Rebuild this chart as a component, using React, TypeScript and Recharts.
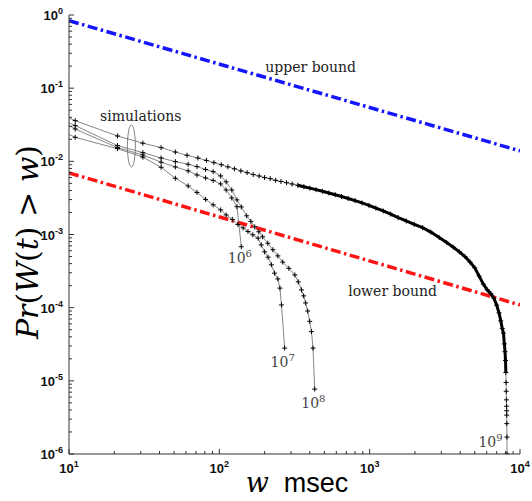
import React from 'react';
import { LineChart, Line, XAxis, YAxis, ReferenceDot } from 'recharts';

// waiting time w (msec) and tail probability
const sim9W = [10, 11, 21, 31, 41, 51, 61, 72, 82, 92, 103, 114, 126, 139, 153, 168, 184, 200, 218, 237, 257, 280, 305, 333, 365, 400, 440, 485, 535, 590, 650, 720, 800, 890, 990, 1100, 1230, 1380, 1550, 1750, 1980, 2250, 2550, 2900, 3250, 3600, 3950, 4300, 4650, 5000, 5350, 5700, 6050, 6400, 6700, 7000, 7250, 7450, 7620, 7760, 7870, 7950, 8010, 8050, 8080, 8100, 8120, 8140, 8150, 8160, 8170, 8190, 8200];
const sim9P = [0.039, 0.036, 0.0222, 0.0177, 0.0154, 0.0134, 0.0121, 0.0111, 0.0103, 0.0096, 0.009, 0.0084, 0.0079, 0.0074, 0.007, 0.0066, 0.0063, 0.006, 0.0058, 0.0055, 0.0053, 0.0051, 0.0049, 0.0047, 0.0045, 0.0043, 0.0041, 0.0039, 0.0037, 0.0035, 0.0033, 0.0031, 0.0029, 0.0027, 0.0025, 0.0023, 0.0021, 0.0019, 0.0017, 0.00153, 0.00138, 0.00124, 0.00108, 0.00091, 0.00078, 0.00067, 0.00058, 0.0005, 0.00042, 0.00035, 0.00027, 0.00021, 0.000175, 0.000155, 0.000135, 0.000108, 0.000085, 0.000066, 0.000052, 0.000045, 0.000032, 0.000025, 0.000019, 0.000013, 0.0000095, 0.0000072, 0.0000055, 0.0000045, 0.0000039, 0.0000034, 0.0000026, 0.0000017, 0.000001];

const sim8W = [10, 11, 21, 31, 41, 51, 62, 71, 81, 91, 102, 111, 121, 131, 140, 152, 162, 172, 183, 194, 210, 227, 245, 264, 290, 318, 335, 352, 364, 375, 387, 399, 410, 420, 431];
const sim8P = [0.0335, 0.0308, 0.0164, 0.01315, 0.0111, 0.0099, 0.00912, 0.00847, 0.00775, 0.00723, 0.00632, 0.00524, 0.00406, 0.00297, 0.00238, 0.0018, 0.00151, 0.00127, 0.00109, 0.00093, 0.00076, 0.00062, 0.00051, 0.00042, 0.000345, 0.00028, 0.000225, 0.000175, 0.000145, 0.000116, 0.00009, 0.000065, 0.000047, 0.000028, 0.0000077];

const sim7W = [10, 11, 21, 31, 41, 51, 62, 71, 81, 91, 102, 111, 122, 133, 144, 155, 167, 181, 190, 200, 211, 222, 233, 245, 253, 259, 272];
const sim7P = [0.0233, 0.0213, 0.0149, 0.0114, 0.0083, 0.00587, 0.00461, 0.00376, 0.00302, 0.00254, 0.00217, 0.00185, 0.00161, 0.00137, 0.00123, 0.0011, 0.00099, 0.00089, 0.00072, 0.00058, 0.00049, 0.000385, 0.000296, 0.000247, 0.000185, 0.000109, 0.000028];

const sim6W = [10, 11, 21, 31, 41, 51, 62, 71, 81, 91, 102, 111, 121, 131, 140];
const sim6P = [0.0309, 0.0277, 0.0154, 0.0122, 0.00973, 0.00838, 0.0074, 0.00652, 0.00593, 0.00548, 0.00491, 0.00406, 0.00316, 0.0024, 0.00068];

const boundW = [10, 10000];
const upperP = [0.836, 0.0139];
const lowerP = [0.00695, 0.000109];

const xTicks = [10, 20, 30, 40, 50, 60, 70, 80, 90, 100, 200, 300, 400, 500, 600, 700, 800, 900, 1000, 2000, 3000, 4000, 5000, 6000, 7000, 8000, 9000, 10000];
const yDecades = [-6, -5, -4, -3, -2, -1];
const minorSteps = [1, 2, 3, 4, 5, 6, 7, 8, 9];
const yTicks = [...yDecades.flatMap((d) => minorSteps.map((m) => m * Math.pow(10, d))), 1];

const notes = [
    { w: 405, p: 0.166, text: 'upper bound', sup: '' },
    { w: 30, p: 0.0356, text: 'simulations', sup: '' },
    { w: 1420, p: 0.000145, text: 'lower bound', sup: '' },
    { w: 137, p: 0.00041, text: '10', sup: '6' },
    { w: 264, p: 0.0000155, text: '10', sup: '7' },
    { w: 422, p: 0.0000043, text: '10', sup: '8' },
    { w: 6370, p: 0.00000125, text: '10', sup: '9' },
];

const toRows = (ws: number[], ps: number[]) => ws.map((w, i) => ({ w, p: ps[i] }));

const sim9 = toRows(sim9W, sim9P);
// where the markers of the 10^9 run merge into a solid band
const sim9Dense = sim9.filter((d) => d.w >= 330 && d.p >= 0.000012);
const sim8 = toRows(sim8W, sim8P);
const sim7 = toRows(sim7W, sim7P);
const sim6 = toRows(sim6W, sim6P);
const upper = toRows(boundW, upperP);
const lower = toRows(boundW, lowerP);

const isDecade = (v: number) => Math.abs(Math.log10(v) - Math.round(Math.log10(v))) < 1e-6;

const XTick = (props: any) => {
    const { x, y, payload } = props;
    const major = isDecade(payload.value);
    const e = Math.round(Math.log10(payload.value));
    return (
        <g>
            <line x1={x} x2={x} y1={y} y2={y - (major ? 5 : 3)} stroke="#333" />
            {major && (
                <text x={x} y={y + 19} textAnchor="middle" fontFamily="Liberation Sans" fontWeight="bold" fontSize={13} fill="#111">
                    10<tspan dy={-6} fontSize={9}>{e}</tspan>
                </text>
            )}
        </g>
    );
};

const YTick = (props: any) => {
    const { x, y, payload } = props;
    const major = isDecade(payload.value);
    const e = Math.round(Math.log10(payload.value));
    return (
        <g>
            <line x1={x} x2={x + (major ? 5 : 3)} y1={y} y2={y} stroke="#333" />
            {major && (
                <text x={x - 6} y={y + 5} textAnchor="end" fontFamily="Liberation Sans" fontWeight="bold" fontSize={13} fill="#111">
                    10<tspan dy={-6} fontSize={9}>{e}</tspan>
                </text>
            )}
        </g>
    );
};

// "+" marker
const Plus = (props: any) => {
    const { cx, cy, index, payload } = props;
    if (payload.w < 10.5) return <g key={index} />;
    return <path key={index} d={`M${cx - 2.5},${cy}h5M${cx},${cy - 2.5}v5`} stroke="#000" strokeWidth={1} />;
};

const YLabel = () => (
    <text transform="translate(38,242) rotate(-90)" textAnchor="middle" fontFamily="DejaVu Serif" fontSize={30} fill="#000">
        <tspan fontStyle="italic">Pr</tspan>(<tspan fontStyle="italic">W</tspan>(<tspan fontStyle="italic">t</tspan>) &gt; <tspan fontStyle="italic">w</tspan>)
    </text>
);

const XLabel = () => (
    <text x={297} y={492} textAnchor="middle" fontSize={27} fill="#000">
        <tspan fontFamily="DejaVu Serif" fontStyle="italic">w</tspan>
        <tspan fontFamily="Liberation Sans">{'\u00a0\u00a0msec'}</tspan>
    </text>
);

export default function App() {
    return (
        <div style={{ position: 'absolute', left: 0, top: 0, background: '#fff' }}>
            <LineChart width={532} height={501} margin={{ top: 15, right: 12, bottom: 17, left: 9 }}>
                <XAxis
                    type="number"
                    dataKey="w"
                    scale="log"
                    domain={[10, 10000]}
                    ticks={xTicks}
                    interval={0}
                    tickSize={0}
                    tickMargin={0}
                    tick={<XTick />}
                    axisLine={{ stroke: '#333' }}
                    height={30}
                    allowDataOverflow
                />
                <YAxis
                    type="number"
                    dataKey="p"
                    scale="log"
                    domain={[0.000001, 1]}
                    ticks={yTicks}
                    interval={0}
                    tickSize={0}
                    tickMargin={0}
                    tick={<YTick />}
                    axisLine={{ stroke: '#333' }}
                    width={60}
                    allowDataOverflow
                />
                <Line data={upper} dataKey="p" stroke="#1414ff" strokeWidth={3.5} strokeDasharray="10 3.5 2.5 3.5" dot={false} isAnimationActive={false} />
                <Line data={lower} dataKey="p" stroke="#ff1414" strokeWidth={3.5} strokeDasharray="10 3.5 2.5 3.5" dot={false} isAnimationActive={false} />
                <Line data={sim6} dataKey="p" stroke="#666" strokeWidth={0.8} dot={<Plus />} isAnimationActive={false} />
                <Line data={sim7} dataKey="p" stroke="#666" strokeWidth={0.8} dot={<Plus />} isAnimationActive={false} />
                <Line data={sim8} dataKey="p" stroke="#666" strokeWidth={0.8} dot={<Plus />} isAnimationActive={false} />
                <Line data={sim9} dataKey="p" stroke="#666" strokeWidth={0.8} dot={<Plus />} isAnimationActive={false} />
                <Line data={sim9Dense} dataKey="p" stroke="#000" strokeWidth={3} dot={false} isAnimationActive={false} />
                <ReferenceDot
                    x={26}
                    y={0.0162}
                    shape={(p: any) => <ellipse cx={p.cx} cy={p.cy} rx={4} ry={21} fill="none" stroke="#666" strokeWidth={0.8} />}
                />
                {notes.map((n, i) => (
                    <ReferenceDot
                        key={i}
                        x={n.w}
                        y={n.p}
                        shape={(p: any) => (
                            <text x={p.cx} y={p.cy} textAnchor="middle" fontFamily="DejaVu Serif" fontSize={14} fill={n.sup ? '#444' : '#222'}>
                                {n.text}
                                {n.sup && <tspan dy={-6} fontSize={10}>{n.sup}</tspan>}
                            </text>
                        )}
                    />
                ))}
            </LineChart>
            <svg width={532} height={501} style={{ position: 'absolute', left: 0, top: 0, pointerEvents: 'none' }}>
                <YLabel />
                <XLabel />
            </svg>
        </div>
    );
}
